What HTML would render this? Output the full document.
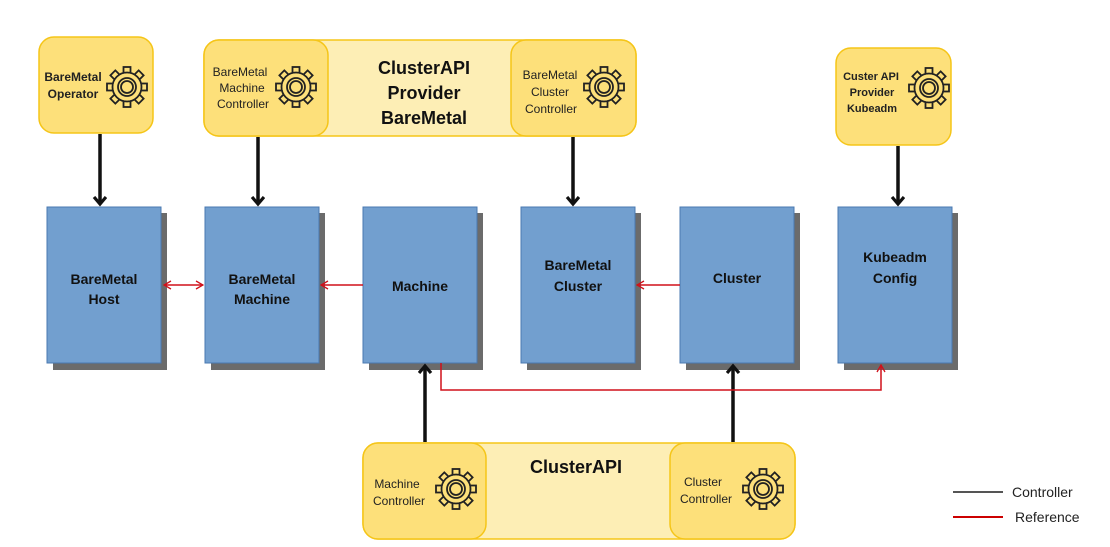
<!DOCTYPE html>
<html><head><style>
body{margin:0;background:#fff;}
svg{display:block;font-family:"Liberation Sans",sans-serif;}
</style></head><body>
<svg width="1110" height="547" viewBox="0 0 1110 547" xmlns="http://www.w3.org/2000/svg">
<defs>
<marker id="ab" markerWidth="14" markerHeight="16" refX="8" refY="7" orient="auto" markerUnits="userSpaceOnUse">
<path d="M1,1 L8,7 L1,13" fill="none" stroke="#111" stroke-width="3.2"/></marker>
<marker id="ar" markerWidth="9" markerHeight="10" refX="8" refY="5" orient="auto-start-reverse" markerUnits="userSpaceOnUse">
<path d="M1,1 L8,5 L1,9" fill="none" stroke="#d0101a" stroke-width="1.3"/></marker>
<rect id="tooth" x="-3.5" y="-20" width="7" height="8" fill="#fde07a" stroke="#222" stroke-width="1.8"/>
<g id="gear">
<use href="#tooth"/>
<use href="#tooth" transform="rotate(45)"/>
<use href="#tooth" transform="rotate(90)"/>
<use href="#tooth" transform="rotate(135)"/>
<use href="#tooth" transform="rotate(180)"/>
<use href="#tooth" transform="rotate(225)"/>
<use href="#tooth" transform="rotate(270)"/>
<use href="#tooth" transform="rotate(315)"/>
<circle r="14.5" fill="#fde07a" stroke="#222" stroke-width="1.8"/>
<circle r="13.5" fill="#fde07a"/>
<circle r="9" fill="none" stroke="#222" stroke-width="1.8"/>
<circle r="6" fill="none" stroke="#222" stroke-width="1.8"/>
</g>
</defs>

<g fill="#6b6b6b">
<rect x="53" y="213" width="114" height="157"/>
<rect x="211" y="213" width="114" height="157"/>
<rect x="369" y="213" width="114" height="157"/>
<rect x="527" y="213" width="114" height="157"/>
<rect x="686" y="213" width="114" height="157"/>
<rect x="844" y="213" width="114" height="157"/>
</g>
<g fill="#729fcf" stroke="#4a78b0" stroke-width="1">
<rect x="47" y="207" width="114" height="156"/>
<rect x="205" y="207" width="114" height="156"/>
<rect x="363" y="207" width="114" height="156"/>
<rect x="521" y="207" width="114" height="156"/>
<rect x="680" y="207" width="114" height="156"/>
<rect x="838" y="207" width="114" height="156"/>
</g>
<g font-weight="bold" font-size="14" fill="#111" text-anchor="middle">
<text x="104" y="284">BareMetal</text><text x="104" y="304">Host</text>
<text x="262" y="284">BareMetal</text><text x="262" y="304">Machine</text>
<text x="420" y="291">Machine</text>
<text x="578" y="270">BareMetal</text><text x="578" y="291">Cluster</text>
<text x="737" y="283">Cluster</text>
<text x="895" y="262">Kubeadm</text><text x="895" y="283">Config</text>
</g>

<rect x="39" y="37" width="114" height="96" rx="15" fill="#fde07a" stroke="#f5c518" stroke-width="1.5"/>
<rect x="204" y="40" width="432" height="96" rx="15" fill="#fdeeb5" stroke="#f5c518" stroke-width="1.5"/>
<rect x="204" y="40" width="124" height="96" rx="15" fill="#fde07a" stroke="#f5c518" stroke-width="1.5"/>
<rect x="511" y="40" width="125" height="96" rx="15" fill="#fde07a" stroke="#f5c518" stroke-width="1.5"/>
<rect x="836" y="48" width="115" height="97" rx="15" fill="#fde07a" stroke="#f5c518" stroke-width="1.5"/>
<rect x="363" y="443" width="432" height="96" rx="15" fill="#fdeeb5" stroke="#f5c518" stroke-width="1.5"/>
<rect x="363" y="443" width="123" height="96" rx="15" fill="#fde07a" stroke="#f5c518" stroke-width="1.5"/>
<rect x="670" y="443" width="125" height="96" rx="15" fill="#fde07a" stroke="#f5c518" stroke-width="1.5"/>

<use href="#gear" x="127" y="87"/>
<use href="#gear" x="296" y="87"/>
<use href="#gear" x="604" y="87"/>
<use href="#gear" x="929" y="88"/>
<use href="#gear" x="456" y="489"/>
<use href="#gear" x="763" y="489"/>

<g font-size="12" fill="#222" text-anchor="middle">
<text x="73" y="81" font-weight="bold">BareMetal</text><text x="73" y="98" font-weight="bold">Operator</text>
<text x="240" y="76">BareMetal</text><text x="242" y="92">Machine</text><text x="243" y="108">Controller</text>
<text x="550" y="79">BareMetal</text><text x="550" y="96">Cluster</text><text x="551" y="113">Controller</text>
<text x="871" y="80" font-weight="bold" font-size="11">Custer API</text><text x="872" y="96" font-weight="bold" font-size="11">Provider</text><text x="872" y="112" font-weight="bold" font-size="11">Kubeadm</text>
<text x="397" y="488">Machine</text><text x="399" y="505">Controller</text>
<text x="703" y="486">Cluster</text><text x="706" y="503">Controller</text>
</g>
<g font-size="18" font-weight="bold" fill="#111" text-anchor="middle">
<text x="424" y="74">ClusterAPI</text><text x="424" y="99">Provider</text><text x="424" y="124">BareMetal</text>
<text x="576" y="473">ClusterAPI</text>
</g>

<g stroke="#111" stroke-width="3.5" fill="none">
<line x1="100" y1="134" x2="100" y2="204" marker-end="url(#ab)"/>
<line x1="258" y1="137" x2="258" y2="204" marker-end="url(#ab)"/>
<line x1="573" y1="137" x2="573" y2="204" marker-end="url(#ab)"/>
<line x1="898" y1="146" x2="898" y2="204" marker-end="url(#ab)"/>
<line x1="425" y1="442" x2="425" y2="366" marker-end="url(#ab)"/>
<line x1="733" y1="442" x2="733" y2="366" marker-end="url(#ab)"/>
</g>
<g stroke="#d0101a" stroke-width="1.5" fill="none">
<line x1="164" y1="285" x2="203" y2="285" marker-end="url(#ar)" marker-start="url(#ar)"/>
<line x1="363" y1="285" x2="321" y2="285" marker-end="url(#ar)"/>
<line x1="680" y1="285" x2="637" y2="285" marker-end="url(#ar)"/>
<polyline points="441,363 441,390 881,390 881,365" marker-end="url(#ar)"/>
</g>

<line x1="953" y1="492" x2="1003" y2="492" stroke="#555" stroke-width="2"/>
<line x1="953" y1="517" x2="1003" y2="517" stroke="#c00" stroke-width="2"/>
<text x="1012" y="497" font-size="14" fill="#222">Controller</text>
<text x="1015" y="522" font-size="14" fill="#222">Reference</text>
</svg>
</body></html>
